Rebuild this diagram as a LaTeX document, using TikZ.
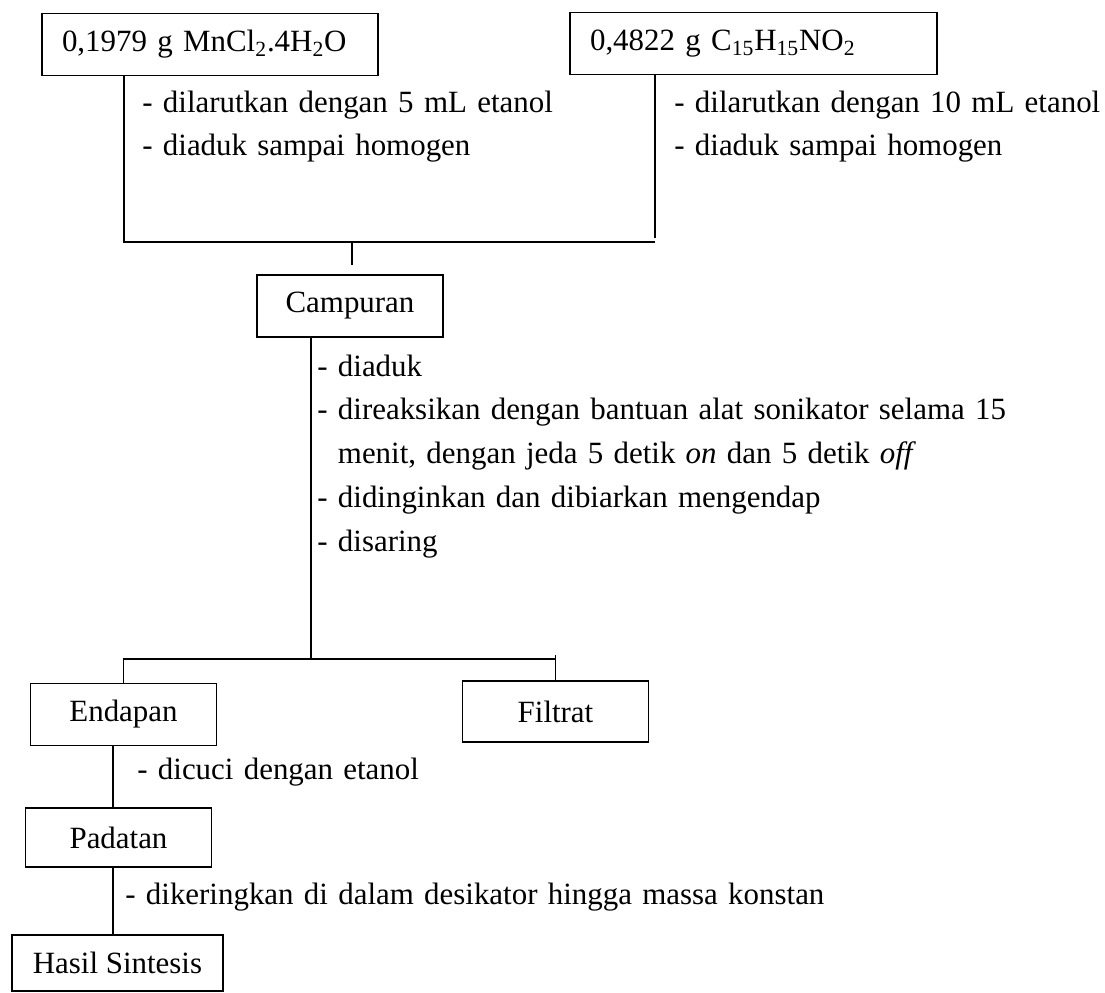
\documentclass[tikz,border=0pt]{standalone}
\usepackage{fontspec}
\setmainfont{Liberation Serif}
\usetikzlibrary{calc}
\tikzset{
  kotak/.style={draw, line width=0.7pt, minimum width=3.72cm, minimum height=1.24cm, inner sep=0pt},
  bahan/.style={kotak, align=left, inner xsep=0.4cm, minimum height=1.24cm},
  langkah/.style={anchor=base west, align=left, inner sep=0pt, text width=#1},
  langkah/.default=15cm,
  garis/.style={line width=0.9pt},
  every node/.append style={font=\fontsize{17.6}{25}\selectfont}
}
\begin{document}
\begin{tikzpicture}[x=0.02cm,y=-0.02cm]
\useasboundingbox (0,0) rectangle (1105,992);
% bahan awal
\node[bahan, text width=5.92cm] (mncl) at (210,44.5) {0,1979 g MnCl\textsubscript{2}.4H\textsubscript{2}O};
\node[bahan, text width=6.54cm] (ligan) at (753.5,43.5) {0,4822 g C\textsubscript{15}H\textsubscript{15}NO\textsubscript{2}};
\node[langkah=9.5cm] (larut1) at (142,112) {- dilarutkan dengan 5 mL etanol\\- diaduk sampai homogen};
\node[langkah=8.6cm] (larut2) at (674,112) {- dilarutkan dengan 10 mL etanol\\- diaduk sampai homogen};
\coordinate (gabungkiri) at (124,242);
\coordinate (gabungkanan) at (655,242);
\coordinate (gabungtengah) at (352,242);
\draw[garis] (mncl.south -| gabungkiri) -- (gabungkiri) -- (gabungkanan);
\draw[garis] (ligan.south -| gabungkanan) -- ([yshift=0.08cm]gabungkanan);
% campuran
\node[kotak] (campuran) at (350,306) {Campuran};
\draw[garis] (gabungtengah) -- ($(campuran.north -| gabungtengah)+(0,-9)$);
\node[langkah] (proses) at (317,376) {- diaduk\\- direaksikan dengan bantuan alat sonikator selama 15\\\hphantom{- }menit, dengan jeda 5 detik \textit{on} dan 5 detik \textit{off}\\- didinginkan dan dibiarkan mengendap\\- disaring};
\coordinate (saring) at (311,659);
\draw[garis] (campuran.south -| saring) -- (saring);
% hasil penyaringan
\node[kotak] (endapan) at (123.5,714.5) {Endapan};
\node[kotak, minimum height=1.22cm] (filtrat) at (555.5,711.5) {Filtrat};
\coordinate (saringkanan) at (555.5,659);
\draw[garis] (endapan.north) -- (endapan.north |- saring) -- (saringkanan);
\draw[garis] ([yshift=0.08cm]saringkanan) -- (filtrat.north);
% pencucian dan pengeringan
\coordinate (sumbu) at (113,0);
\node[kotak, minimum height=1.18cm] (padatan) at (118.5,837.5) {Padatan};
\node[kotak, minimum height=1.12cm, inner xsep=0.42cm] (hasil) at (117.5,963) {Hasil Sintesis};
\node[langkah=8cm] (cuci) at (137,779) {- dicuci dengan etanol};
\node[langkah] (kering) at (125,904) {- dikeringkan di dalam desikator hingga massa konstan};
\draw[garis] (endapan.south -| sumbu) -- (padatan.north -| sumbu);
\draw[garis] (padatan.south -| sumbu) -- (hasil.north -| sumbu);
\end{tikzpicture}
\end{document}
